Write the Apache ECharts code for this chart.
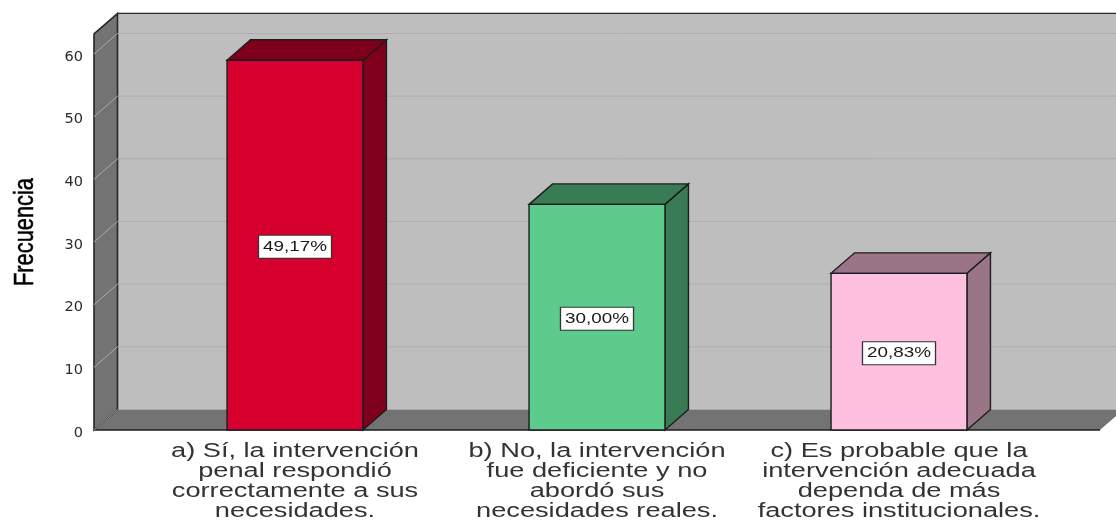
<!DOCTYPE html>
<html>
<head>
<meta charset="utf-8">
<style>html,body{margin:0;padding:0;background:#fff}#c{width:1116px;height:520px}</style>
<script src="https://cdn.jsdelivr.net/npm/echarts@6/dist/echarts.min.js"></script>
</head>
<body>
<div id="c"></div>
<script>
var categories = [
  'a) Sí, la intervención\npenal respondió\ncorrectamente a sus\nnecesidades.',
  'b) No, la intervención\nfue deficiente y no\nabordó sus\nnecesidades reales.',
  'c) Es probable que la\nintervención adecuada\ndependa de más\nfactores institucionales.'
];
var frequencies = [59, 36, 25];
var percentLabels = ['49,17%', '30,00%', '20,83%'];
var yTicks = [0, 10, 20, 30, 40, 50, 60];
var yTitle = 'Frecuencia';
var wallTopValue = 63.2;
var frontColors = ['#D6002E', '#5CCB8B', '#FFC0E0'];
var sideColors = ['#7F001B', '#387B54', '#9A7487'];

var DX = 23.5, DY = -20.5, PAD = 50;
var EDGE = {stroke: '#1c1c1c', lineWidth: 1.4};

function poly(points, fill, stroke, lw) {
  return {type: 'polygon', shape: {points: points},
    style: {fill: fill, stroke: stroke || 'none', lineWidth: lw || 0}};
}

function renderWalls(params, api) {
  var cs = params.coordSys;
  var l = cs.x - PAD, r = cs.x + cs.width + PAD;
  var b = api.coord([0, 0])[1], t = api.coord([0, wallTopValue])[1];
  return {type: 'group', children: [
    poly([[l + DX, t + DY], [r + DX, t + DY], [r + DX, b + DY], [l + DX, b + DY]], '#BEBEBE'),
    {type: 'line', shape: {x1: l + DX, y1: t + DY, x2: r + DX, y2: t + DY},
      style: {stroke: '#2a2a2a', lineWidth: 1.2}},
    poly([[l, b], [r, b], [r + DX, b + DY], [l + DX, b + DY]], '#737373'),
    poly([[l, t], [l + DX, t + DY], [l + DX, b + DY], [l, b]], '#737373', '#262626', 1.6),
    {type: 'line', shape: {x1: l, y1: b, x2: r, y2: b},
      style: {stroke: '#1c1c1c', lineWidth: 1.6}}
  ]};
}

function renderGrid(params, api) {
  var cs = params.coordSys;
  var l = cs.x - PAD, r = cs.x + cs.width + PAD;
  var y = api.coord([0, api.value(1)])[1];
  var kids = [{type: 'line', shape: {x1: l, y1: y, x2: l + DX, y2: y + DY},
    style: {stroke: '#ABABAB', lineWidth: 1}}];
  if (api.value(1) > 0) {
    kids.push({type: 'line', shape: {x1: l + DX, y1: y + DY, x2: r + DX, y2: y + DY},
      style: {stroke: '#ADADAD', lineWidth: 1}});
  }
  return {type: 'group', children: kids};
}

function renderBar(params, api) {
  var i = params.dataIndex;
  var c = api.coord([api.value(0), api.value(1)]);
  var base = api.coord([api.value(0), 0]);
  var w = api.size([1, 0])[0] * 0.45;
  var x0 = c[0] - w / 2, x1 = c[0] + w / 2, yt = c[1], yb = base[1];
  return {type: 'group', children: [
    poly([[x1, yt], [x1 + DX, yt + DY], [x1 + DX, yb + DY], [x1, yb]], sideColors[i], EDGE.stroke, EDGE.lineWidth),
    poly([[x0, yt], [x0 + DX, yt + DY], [x1 + DX, yt + DY], [x1, yt]], sideColors[i], EDGE.stroke, EDGE.lineWidth),
    poly([[x0, yt], [x1, yt], [x1, yb], [x0, yb]], frontColors[i], EDGE.stroke, EDGE.lineWidth),
    {type: 'text', z2: 10, x: c[0], y: (yt + yb) / 2 + 1.5, scaleX: 1.3, style: {
      text: percentLabels[i], x: 0, y: 0,
      align: 'center', verticalAlign: 'middle',
      font: '14.5px "Liberation Sans"', fill: '#1a1a1a',
      backgroundColor: '#fff', borderColor: '#333', borderWidth: 1,
      padding: [4, 3, 3, 3]
    }},
    {type: 'text', x: c[0], y: yb + 11, scaleX: 1.36, style: {
      text: categories[i], x: 0, y: 0, align: 'center', verticalAlign: 'top',
      font: '20px "Liberation Sans"', lineHeight: 20, fill: '#333'
    }}
  ]};
}

var chart = echarts.init(document.getElementById('c'), null, {renderer: 'canvas'});
chart.setOption({
  animation: false,
  backgroundColor: '#fff',
  grid: {left: 144, right: 66, top: 54, bottom: 90},
  xAxis: {
    type: 'category', data: categories,
    axisLine: {show: false}, axisTick: {show: false}, splitLine: {show: false},
    axisLabel: {show: false}
  },
  yAxis: {
    type: 'value', min: 0, max: 60, interval: 10, offset: 50,
    axisLine: {show: false}, axisTick: {show: false}, splitLine: {show: false},
    axisLabel: {margin: 11, color: '#2b2b2b', fontFamily: 'DejaVu Sans', fontSize: 14.5,
      verticalAlign: 'top', lineHeight: 6}
  },
  graphic: [{
    type: 'text', x: 25, y: 232, rotation: Math.PI / 2, scaleX: 0.78,
    style: {text: yTitle, x: 0, y: 0, align: 'center', verticalAlign: 'middle',
      font: '28px "Liberation Sans"', fill: '#000', stroke: '#000', lineWidth: 0.5}
  }],
  series: [
    {type: 'custom', silent: true, z: 1, clip: false, data: [[0, 0]], renderItem: renderWalls},
    {type: 'custom', silent: true, z: 2, clip: false,
      data: yTicks.map(function (v) { return [0, v]; }), renderItem: renderGrid},
    {type: 'custom', silent: true, z: 3, clip: false,
      data: frequencies.map(function (v, i) { return [i, v]; }), renderItem: renderBar}
  ]
});
</script>
</body>
</html>
